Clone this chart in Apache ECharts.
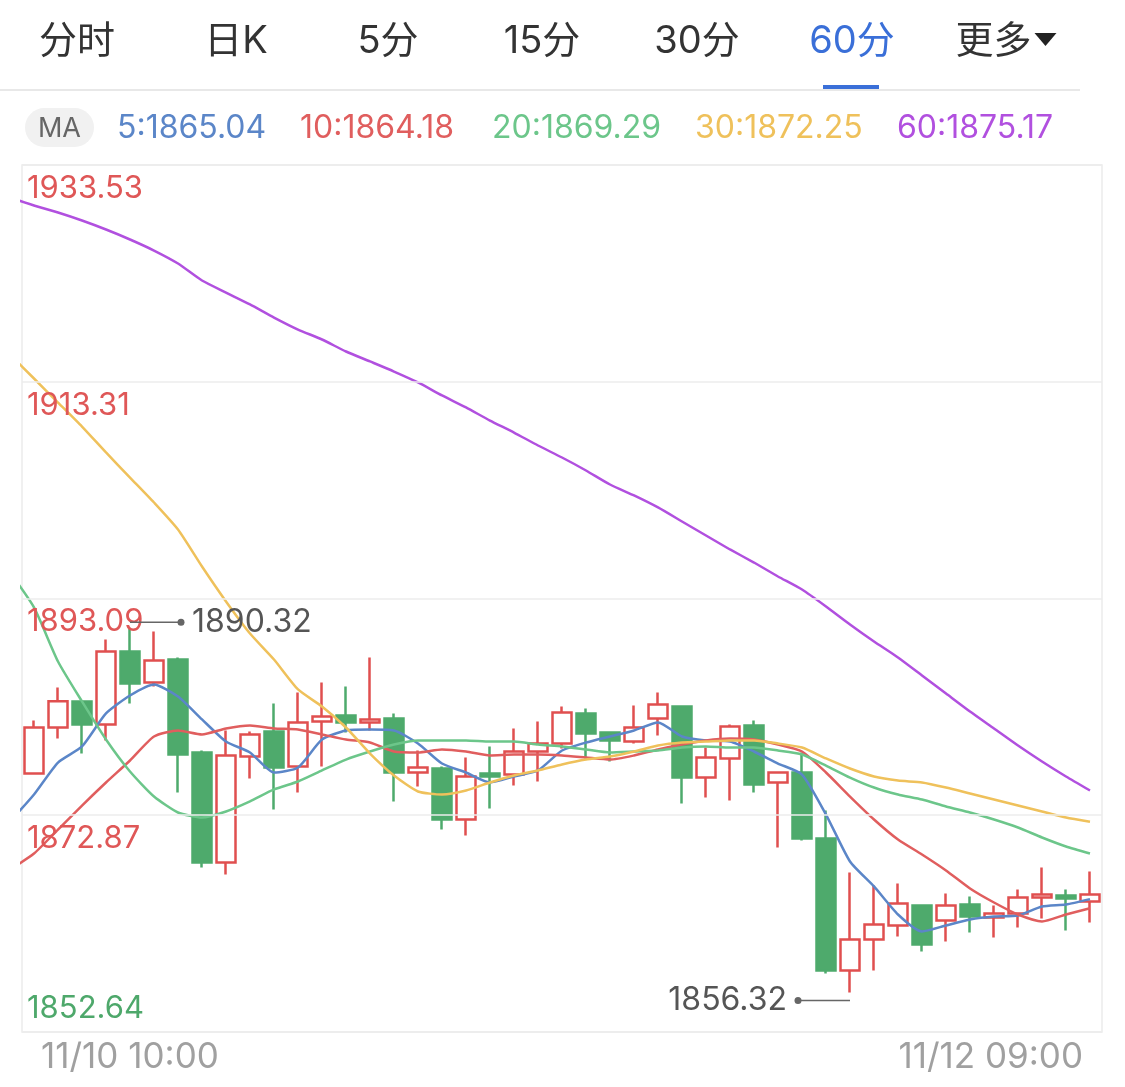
<!DOCTYPE html>
<html>
<head>
<meta charset="utf-8">
<script src="https://cdn.jsdelivr.net/npm/echarts@6/dist/echarts.min.js"></script>
<style>
html,body{margin:0;padding:0;background:#fff;}
#wrap{position:relative;width:1125px;height:1087px;overflow:hidden;background:#fff;}
#chart{position:absolute;left:0;top:0;width:1125px;height:1087px;}
.tab{position:absolute;top:14px;height:50px;line-height:50px;font-size:38px;color:#333;
  font-family:Inter,"Noto Sans CJK SC",sans-serif;transform:translateX(-50%);white-space:nowrap;}
.tab.active{color:#3a6fd8;}
.tri{display:inline-block;width:0;height:0;border-left:11px solid transparent;border-right:11px solid transparent;
  border-top:13px solid #222;vertical-align:middle;margin-left:3px;position:relative;top:-3px;}
#uline{position:absolute;left:823px;top:85px;width:56px;height:4px;background:#3a6fd8;}
#divider{position:absolute;left:0;top:89px;width:1080px;height:2px;background:#e8e8e8;}
#mapill{position:absolute;left:25px;top:108px;width:69px;height:39px;border-radius:20px;background:#f1f1f1;
  color:#666;font-size:27px;line-height:39px;text-align:center;font-family:Inter,sans-serif;}
.leg{position:absolute;top:107px;height:40px;line-height:40px;font-size:32px;font-family:Inter,sans-serif;white-space:nowrap;}
</style>
</head>
<body>
<div id="wrap">
  <div id="chart"></div>
  <div id="header"></div>
  <div id="uline"></div>
  <div id="divider"></div>
  <div id="mapill">MA</div>
  <div id="legend"></div>
</div>
<script>
// ---------- data ----------
const tabs = ['分时', '日K', '5分', '15分', '30分', '60分', '更多'];
const activeTab = '60分';

const categories = [
  '11/10 10:00','11/10 11:00','11/10 12:00','11/10 13:00','11/10 14:00','11/10 15:00','11/10 16:00',
  '11/10 17:00','11/10 18:00','11/10 19:00','11/10 20:00','11/10 21:00','11/10 22:00','11/10 23:00',
  '11/11 00:00','11/11 01:00','11/11 02:00','11/11 03:00','11/11 04:00','11/11 05:00',
  '11/11 07:00','11/11 08:00','11/11 09:00','11/11 10:00','11/11 11:00','11/11 12:00','11/11 13:00',
  '11/11 14:00','11/11 15:00','11/11 16:00','11/11 17:00','11/11 18:00','11/11 19:00','11/11 20:00',
  '11/11 21:00','11/11 22:00','11/11 23:00','11/12 00:00','11/12 01:00','11/12 02:00','11/12 03:00',
  '11/12 04:00','11/12 07:00','11/12 08:00','11/12 09:00'
];

const opens  = [1876.76,1881.05,1883.48,1881.33,1888.14,1885.25,1887.39,1878.72,1868.45,1878.34,
                1880.68,1877.41,1881.61,1882.17,1881.52,1881.89,1876.85,1877.22,1872.47,1876.76,
                1876.66,1878.81,1879.56,1882.36,1880.58,1879.74,1881.89,1883.01,1876.38,1878.16,
                1881.24,1875.92,1876.85,1870.69,1858.38,1861.27,1862.58,1864.44,1863.04,1864.54,
                1863.32,1863.70,1865.19,1865.38,1864.82];
const closes = [1881.05,1883.50,1881.33,1888.14,1885.15,1887.30,1878.53,1868.45,1878.44,1880.40,
                1877.32,1881.52,1882.08,1881.52,1881.80,1876.85,1877.32,1872.47,1876.48,1876.48,
                1878.81,1879.56,1882.45,1880.49,1879.84,1881.05,1883.20,1876.38,1878.25,1881.14,
                1875.73,1876.85,1870.69,1858.38,1861.27,1862.67,1864.63,1860.80,1864.44,1863.42,
                1863.70,1865.19,1865.47,1865.10,1865.47];
const lows   = [1876.66,1880.02,1878.62,1879.84,1883.29,1884.88,1874.99,1867.99,1867.33,1876.29,
                1873.40,1874.99,1877.41,1880.58,1880.77,1874.15,1875.55,1871.53,1870.97,1873.49,
                1875.64,1876.01,1879.09,1878.16,1877.88,1879.56,1880.30,1873.96,1874.52,1874.24,
                1874.99,1869.85,1870.51,1858.10,1856.32,1858.38,1861.55,1860.15,1861.08,1861.92,
                1861.46,1862.39,1863.23,1862.11,1862.86];
const highs  = [1881.70,1884.78,1883.57,1889.26,1890.32,1890.01,1887.58,1878.90,1880.77,1880.68,
                1883.29,1884.32,1885.25,1884.88,1887.58,1882.36,1878.90,1877.41,1878.25,1879.28,
                1880.96,1881.61,1883.01,1882.82,1880.68,1883.10,1884.32,1883.10,1879.18,1881.33,
                1881.70,1876.94,1878.72,1873.31,1867.52,1866.31,1866.50,1864.54,1865.56,1865.28,
                1864.44,1865.93,1867.99,1865.93,1867.61];

// MA values; the first entry of each is the (mostly off-screen) point just before the first visible candle
const ma5  = [1872.28,
              1874.80,1877.78,1879.28,1882.36,1884.03,1885.06,1883.94,1881.80,1879.74,1878.72,
              1876.85,1877.32,1879.93,1880.77,1880.86,1880.77,1879.56,1877.69,1876.85,1875.92,
              1876.48,1877.04,1878.90,1879.65,1880.21,1880.77,1881.52,1880.21,1879.84,1879.74,
              1878.81,1877.69,1876.66,1872.93,1868.55,1866.22,1863.60,1862.02,1862.58,1863.14,
              1863.42,1863.51,1864.35,1864.54,1865.04];
const ma10 = [1867.80,
              1869.29,1871.53,1873.77,1875.92,1877.97,1880.21,1880.77,1880.40,1880.96,1881.24,
              1880.96,1880.86,1880.40,1879.93,1879.65,1878.81,1878.72,1879.00,1878.81,1878.44,
              1878.53,1878.53,1878.44,1878.25,1878.06,1878.44,1879.00,1879.46,1879.84,1880.02,
              1879.93,1879.46,1878.81,1876.85,1874.61,1872.47,1870.60,1869.20,1867.71,1866.03,
              1864.72,1863.60,1862.95,1863.60,1864.18];
const ma20 = [1895.51,
              1892.25,1887.21,1883.48,1879.93,1876.94,1874.61,1873.12,1872.65,1873.21,1874.15,
              1875.27,1876.01,1877.04,1878.06,1878.81,1879.46,1879.84,1879.84,1879.84,1879.74,
              1879.74,1879.46,1879.28,1879.00,1878.72,1878.81,1878.90,1879.18,1879.28,1879.18,
              1879.18,1878.90,1878.53,1877.50,1876.38,1875.45,1874.80,1874.33,1873.68,1873.12,
              1872.47,1871.72,1870.79,1869.95,1869.29];
const ma30 = [1915.85,
              1913.61,1911.37,1909.13,1906.71,1904.37,1902.04,1899.52,1896.07,1892.81,1889.82,
              1887.39,1884.60,1883.01,1881.05,1878.62,1876.57,1875.08,1874.80,1875.17,1875.92,
              1876.57,1877.04,1877.60,1878.06,1878.34,1878.81,1879.37,1879.65,1879.74,1879.84,
              1879.84,1879.56,1879.18,1878.16,1877.22,1876.48,1876.10,1875.92,1875.45,1874.89,
              1874.33,1873.77,1873.21,1872.65,1872.25];
const ma60 = [1930.50,
              1929.75,1929.10,1928.35,1927.51,1926.58,1925.55,1924.34,1922.75,1921.63,1920.52,
              1919.30,1918.18,1917.25,1916.13,1915.20,1914.26,1913.24,1912.03,1910.91,1909.69,
              1908.57,1907.36,1906.24,1905.03,1903.72,1902.70,1901.58,1900.27,1898.96,1897.66,
              1896.44,1895.14,1893.92,1892.34,1890.66,1889.07,1887.58,1885.90,1884.22,1882.54,
              1880.96,1879.37,1877.88,1876.48,1875.17];

const maPeriods = [5, 10, 20, 30, 60];
const yTicks = [1933.53, 1913.31, 1893.09, 1872.87, 1852.64];

// ---------- styles ----------
const RED = '#e04f4f', GREEN = '#4eaa6c';
const maColors = ['#5b86c8', '#e05e5e', '#6cc68a', '#efc15b', '#b150df'];
const NUM_FONT = 'Inter, "Noto Sans", sans-serif';

// ---------- header ----------
const tabCenters = [77, 236, 388, 542, 697, 852, 1006];
const header = document.getElementById('header');
tabs.forEach((t, i) => {
  const d = document.createElement('div');
  d.className = 'tab' + (t === activeTab ? ' active' : '');
  d.style.left = tabCenters[i] + 'px';
  d.textContent = t;
  if (t === '更多') { const s = document.createElement('span'); s.className = 'tri'; d.appendChild(s); }
  header.appendChild(d);
});
const maSeriesData = [ma5, ma10, ma20, ma30, ma60];
const legLefts = [117, 300, 492, 695, 897];
const legend = document.getElementById('legend');
maPeriods.forEach((p, i) => {
  const d = document.createElement('div');
  d.className = 'leg';
  d.style.left = legLefts[i] + 'px';
  d.style.color = maColors[i];
  const arr = maSeriesData[i];
  d.textContent = p + ':' + arr[arr.length - 1].toFixed(2);
  legend.appendChild(d);
});

// ---------- chart ----------
const chart = echarts.init(document.getElementById('chart'), null, { renderer: 'canvas' });
const candles = opens.map((o, i) => [o, closes[i], lows[i], highs[i]]);
const last = yTicks.length - 1;
const n = categories.length;

const option = {
  animation: false,
  grid: { left: 22, top: 165, width: 1080, height: 867, show: true, borderColor: '#ececec', borderWidth: 1.5 },
  xAxis: [
    {
      type: 'category', data: categories, boundaryGap: true,
      axisLine: { show: false }, axisTick: { show: false }, axisLabel: { show: false }, splitLine: { show: false }
    },
    {
      // same band centres as the category axis, used by the MA lines so they can run in from the left edge
      type: 'value', min: -0.5, max: n - 0.5, show: false,
      axisLine: { show: false }, axisTick: { show: false }, axisLabel: { show: false }, splitLine: { show: false }
    }
  ],
  yAxis: {
    type: 'value', min: yTicks[last], max: yTicks[0], scale: true,
    axisLine: { show: false }, axisTick: { show: false }, axisLabel: { show: false }, splitLine: { show: false }
  },
  series: [
    {
      type: 'candlestick', data: candles, barWidth: 19, z: 2, xAxisIndex: 0,
      itemStyle: { color: '#ffffff', color0: GREEN, borderColor: RED, borderColor0: GREEN, borderWidth: 2.5 },
      markLine: {
        silent: true, symbol: ['none', 'none'], animation: false,
        lineStyle: { color: '#ececec', width: 1.5, type: 'solid' },
        label: { fontSize: 31, fontFamily: NUM_FONT, distance: [5, 8] },
        data: yTicks.map((v, i) => ({
          yAxis: v,
          label: {
            position: i === last ? 'insideStartTop' : 'insideStartBottom',
            color: i === last ? '#4ea86b' : '#df5757',
            formatter: () => v.toFixed(2)
          }
        }))
      }
    }
  ].concat(maSeriesData.map((arr, i) => ({
    type: 'line', name: 'MA' + maPeriods[i], xAxisIndex: 1, clip: true,
    data: arr.map((v, k) => [k - 1, v]), symbol: 'none', smooth: 0.2, z: 3,
    lineStyle: { color: maColors[i], width: 2.5 }
  })))
};
chart.setOption(option);

// extreme markers and time labels, placed via the chart's own scales
const hiVal = Math.max(...highs), iMax = highs.indexOf(hiVal);
const loVal = Math.min(...lows), iMin = lows.indexOf(loVal);
const pMax = chart.convertToPixel({ gridIndex: 0 }, [iMax, hiVal]);
const pMin = chart.convertToPixel({ gridIndex: 0 }, [iMin, loVal]);
const p0 = chart.convertToPixel({ gridIndex: 0 }, [0, yTicks[last]]);
const pN = chart.convertToPixel({ gridIndex: 0 }, [n - 1, yTicks[last]]);
const yMax = pMax[1] - 6, yMin = pMin[1] + 8;
const MK = '#666';
const TIME_FONT = '35px ' + NUM_FONT;
chart.setOption({
  graphic: [
    { type: 'line', shape: { x1: pMax[0], y1: yMax, x2: pMax[0] + 51, y2: yMax }, style: { stroke: MK, lineWidth: 1.5 }, z: 10 },
    { type: 'circle', shape: { cx: pMax[0] + 51, cy: yMax, r: 3.5 }, style: { fill: MK }, z: 10 },
    { type: 'text', x: pMax[0] + 62, y: yMax, style: { text: hiVal.toFixed(2), font: '32px ' + NUM_FONT, fill: '#555', textAlign: 'left', textVerticalAlign: 'middle' }, z: 10 },
    { type: 'line', shape: { x1: pMin[0], y1: yMin, x2: pMin[0] - 52, y2: yMin }, style: { stroke: MK, lineWidth: 1.5 }, z: 10 },
    { type: 'circle', shape: { cx: pMin[0] - 52, cy: yMin, r: 3.5 }, style: { fill: MK }, z: 10 },
    { type: 'text', x: pMin[0] - 63, y: yMin, style: { text: loVal.toFixed(2), font: '32px ' + NUM_FONT, fill: '#555', textAlign: 'right', textVerticalAlign: 'middle' }, z: 10 },
    { type: 'text', x: p0[0] + 7, y: p0[1] + 25, style: { text: categories[0], font: TIME_FONT, fill: '#a0a0a0', textAlign: 'left', textVerticalAlign: 'middle' } },
    { type: 'text', x: pN[0] - 7, y: pN[1] + 25, style: { text: categories[n - 1], font: TIME_FONT, fill: '#a0a0a0', textAlign: 'right', textVerticalAlign: 'middle' } }
  ]
});
</script>
</body>
</html>
